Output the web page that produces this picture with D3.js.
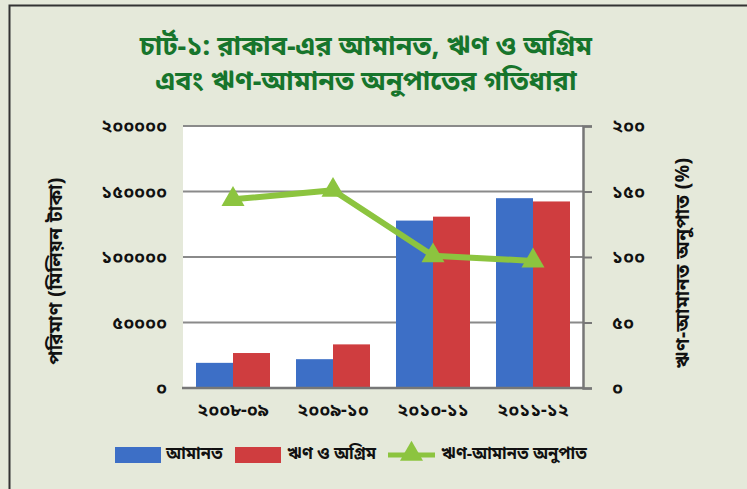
<!DOCTYPE html>
<html>
<head>
<meta charset="utf-8">
<script src="https://cdn.jsdelivr.net/npm/d3@7"></script>
<style>
  html, body { margin: 0; padding: 0; background: #ffffff; }
  svg { display: block; }
  text { font-family: "Noto Sans Bengali", "Noto Sans", "Lohit Bengali", "FreeSans", sans-serif; }
</style>
</head>
<body>
<svg id="chart" width="747" height="489"></svg>
<script>
const categories = ["২০০৮-০৯", "২০০৯-১০", "২০১০-১১", "২০১১-১২"];
const seriesNames = ["আমানত", "ঋণ ও অগ্রিম", "ঋণ-আমানত অনুপাত"];
const deposits = [19200, 22000, 127800, 144900];
const loans = [26700, 33300, 130800, 142400];
const ratio = [144, 151, 101, 97];
const leftTicks = [0, 50000, 100000, 150000, 200000];
const rightTicks = [0, 50, 100, 150, 200];
const titleLines = ["চার্ট-১: রাকাব-এর আমানত, ঋণ ও অগ্রিম", "এবং ঋণ-আমানত অনুপাতের গতিধারা"];
const leftTitle = "পরিমাণ (মিলিয়ন টাকা)";
const rightTitle = "ঋণ-আমানত অনুপাত (%)";

const bn = d => String(d).replace(/[0-9]/g, c => "০১২৩৪৫৬৭৮৯"[+c]);

const colors = { dep: "#3d6fc6", loan: "#cf3d3f", line: "#8cc43f", grid: "#8a8a8a", title: "#17752c" };

const svg = d3.select("#chart");
svg.append("rect").attr("width", 747).attr("height", 489).attr("fill", "#e5e9da");
// outer frame (left and top)
svg.append("path").attr("d", "M9.5,500 L9.5,5.5 L760,5.5").attr("fill", "none").attr("stroke", "#333").attr("stroke-width", 2);

const m = { left: 183, right: 583, top: 126, bottom: 388 };
svg.append("rect").attr("x", m.left).attr("y", m.top).attr("width", m.right - m.left).attr("height", m.bottom - m.top).attr("fill", "#ffffff");

const x = d3.scaleBand().domain(categories).range([m.left, m.right]).paddingInner(0.26).paddingOuter(0.13);
const xs = d3.scaleBand().domain(["dep", "loan"]).range([0, x.bandwidth()]);
const yL = d3.scaleLinear().domain([0, 200000]).range([m.bottom, m.top]);
const yR = d3.scaleLinear().domain([0, 200]).range([m.bottom, m.top]);

// gridlines
svg.append("g").selectAll("line").data(leftTicks.filter(d => d > 0)).join("line")
  .attr("x1", m.left).attr("x2", m.right)
  .attr("y1", d => yL(d)).attr("y2", d => yL(d))
  .attr("stroke", colors.grid).attr("stroke-width", 2);

// bars
const rows = categories.map((c, i) => ({ c, dep: deposits[i], loan: loans[i] }));
const g = svg.append("g");
["dep", "loan"].forEach(k => {
  g.selectAll("rect." + k).data(rows).join("rect").attr("class", k)
    .attr("x", d => x(d.c) + xs(k)).attr("width", xs.bandwidth())
    .attr("y", d => yL(d[k])).attr("height", d => yL(0) - yL(d[k]))
    .attr("fill", colors[k]);
});

// bottom axis line
svg.append("line").attr("x1", m.left - 1).attr("x2", m.right).attr("y1", m.bottom).attr("y2", m.bottom)
  .attr("stroke", "#777").attr("stroke-width", 2.5);

const tickFont = 18;
// right axis
const rAxis = svg.append("g").attr("transform", `translate(${m.right},0)`)
  .call(d3.axisRight(yR).tickValues(rightTicks).tickSize(9).tickPadding(20).tickFormat(bn));
rAxis.select(".domain").attr("stroke", "#777").attr("stroke-width", 2.5);
rAxis.selectAll(".tick line").attr("stroke", "#777").attr("stroke-width", 2);
rAxis.selectAll("text").attr("font-size", tickFont).attr("font-weight", "bold").attr("fill", "#111");

// left axis
const lAxis = svg.append("g").attr("transform", `translate(${m.left},0)`)
  .call(d3.axisLeft(yL).tickValues(leftTicks).tickSize(0).tickPadding(16).tickFormat(bn));
lAxis.select(".domain").remove();
lAxis.selectAll("text").attr("font-size", tickFont).attr("font-weight", "bold").attr("fill", "#111");

// x axis labels
const xAxis = svg.append("g").attr("transform", `translate(0,${m.bottom})`)
  .call(d3.axisBottom(x).tickSize(0).tickPadding(15));
xAxis.select(".domain").remove();
xAxis.selectAll("text").attr("font-size", tickFont).attr("font-weight", "bold").attr("fill", "#111");

// line
const line = d3.line().x((d, i) => x(categories[i]) + x.bandwidth() / 2).y(d => yR(d));
svg.append("path").datum(ratio).attr("d", line).attr("fill", "none")
  .attr("stroke", colors.line).attr("stroke-width", 6).attr("stroke-linejoin", "round");
const tri = d3.symbol().type(d3.symbolTriangle).size(230);
svg.append("g").selectAll("path").data(ratio).join("path")
  .attr("d", tri)
  .attr("transform", (d, i) => `translate(${x(categories[i]) + x.bandwidth() / 2},${yR(d)})`)
  .attr("fill", colors.line);

// axis titles
svg.append("text").attr("transform", "translate(57,271) rotate(-90)").attr("text-anchor", "middle")
  .attr("dominant-baseline", "middle").attr("font-size", 19).attr("font-weight", "bold")
  .attr("letter-spacing", 0.5).attr("fill", "#111").text(leftTitle);
svg.append("text").attr("transform", "translate(684,263) rotate(-90)").attr("text-anchor", "middle")
  .attr("dominant-baseline", "middle").attr("font-size", 19).attr("font-weight", "bold")
  .attr("letter-spacing", 0.5).attr("fill", "#111").text(rightTitle);

// title
svg.append("g").selectAll("text").data(titleLines).join("text")
  .attr("x", 366).attr("y", (d, i) => 55 + i * 35).attr("text-anchor", "middle")
  .attr("font-size", 27).attr("font-weight", "bold").attr("fill", colors.title).text(d => d);

// legend
const legend = svg.append("g").attr("transform", "translate(0,455)");
const items = [
  { type: "rect", color: colors.dep, x: 115, tx: 166, label: seriesNames[0] },
  { type: "rect", color: colors.loan, x: 235, tx: 287, label: seriesNames[1] },
  { type: "line", color: colors.line, x: 388, tx: 441, label: seriesNames[2] }
];
items.forEach(it => {
  if (it.type === "rect") {
    legend.append("rect").attr("x", it.x).attr("y", -8).attr("width", 46).attr("height", 16).attr("fill", it.color);
  } else {
    legend.append("line").attr("x1", it.x).attr("x2", it.x + 47).attr("y1", 0).attr("y2", 0)
      .attr("stroke", it.color).attr("stroke-width", 5);
    legend.append("path").attr("d", tri).attr("transform", `translate(${it.x + 23.5},-1)`).attr("fill", it.color);
  }
  legend.append("text").attr("x", it.tx).attr("y", 0).attr("dominant-baseline", "middle")
    .attr("font-size", 16.5).attr("font-weight", "bold").attr("fill", "#111").text(it.label);
});
</script>
</body>
</html>
